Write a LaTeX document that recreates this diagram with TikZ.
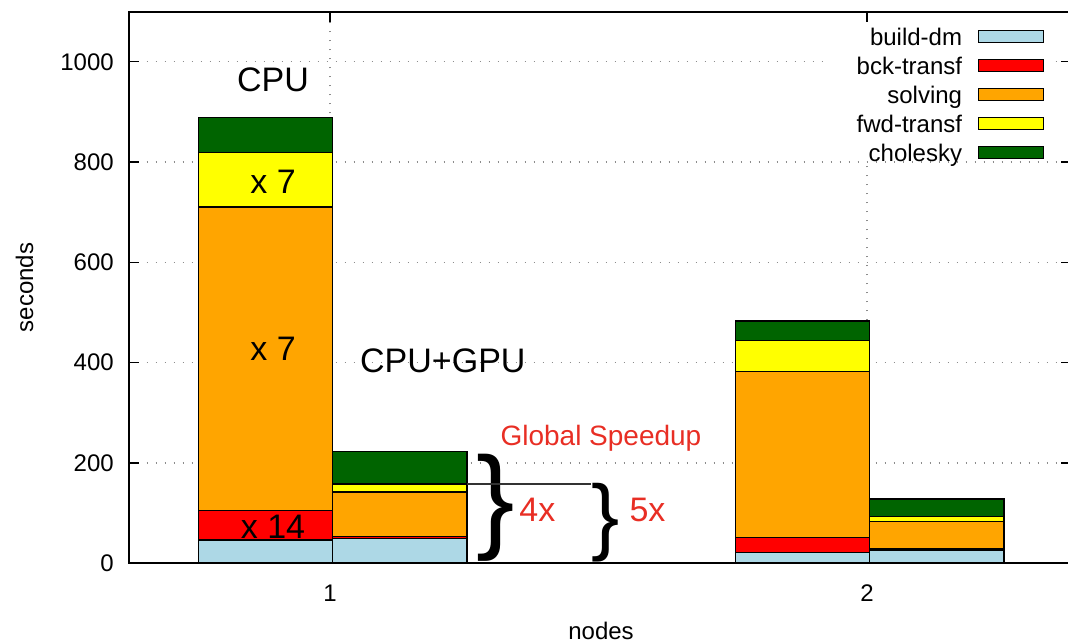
\documentclass[tikz,border=0pt]{standalone}
\usepackage{fontspec}
\setmainfont{Liberation Sans}
\usepackage{xcolor}
\usepackage{tikz}
\usetikzlibrary{positioning}
\definecolor{cbuild}{HTML}{ADD8E6}
\definecolor{cback}{HTML}{FF0000}
\definecolor{csolve}{HTML}{FFA500}
\definecolor{cforw}{HTML}{FFFF00}
\definecolor{cchol}{HTML}{006400}
\definecolor{speedred}{RGB}{232,46,36}

\begin{document}
\begin{tikzpicture}[
    x=537pt, y=0.5015pt,
    bar/.style={draw=black, line width=1.4pt},
    gridline/.style={black!45, line width=1.3pt, dash pattern=on 1.3pt off 7.7pt},
    axtick/.style={line width=1.4pt},
    ticklabel/.style={font=\fontsize{24pt}{28pt}\selectfont, inner sep=0pt},
    legtext/.style={font=\fontsize{24pt}{28pt}\selectfont, inner sep=0pt, text height=18pt, text depth=0pt},
    legbox/.style={draw=black, line width=1.4pt, minimum width=65pt, minimum height=12pt, inner sep=0pt},
    bigtext/.style={font=\fontsize{34pt}{40pt}\selectfont, inner sep=0pt},
    redtext/.style={text=speedred, inner sep=0pt},
    bracenode/.style={inner sep=0pt, anchor=north west},
]
\useasboundingbox (0.38547,-160.92) rectangle (2.3743,1123.23);
\clip (0.38547,-160.92) rectangle (2.3743,1123.23);

\foreach \v in {200,400,...,1000}
    \draw[gridline] (0.625,\v) -- (2.38,\v);
\foreach \n in {1,2}
    \draw[gridline] (\n,0) -- (\n,1100);

\foreach \v in {0,200,...,1000} {
    \draw[axtick] (0.625,\v) -- ++(0.0186,0);
    \draw[axtick] (2.38,\v) -- ++(-0.0186,0);
    \node[ticklabel, left=14.7pt] (yl\v) at (0.625,\v) {\v};
}
\foreach \n in {1,2} {
    \draw[axtick] (\n,1100) -- ++(0,-20);
    \draw[axtick] (\n,0) -- ++(0,20);
    \node[ticklabel] (xl\n) at (\n,-59.5) {\n};
}

\foreach \xl/\xr/\a/\b/\c/\d/\e in {0.755/1.005/46.5/105/710.5/818.7/888.6, 1.005/1.255/49/53.8/142/158/222.5, 1.755/2.005/22/52/382/444/483, 2.005/2.255/25/28.5/83/93/128} {
    \draw[bar, fill=cbuild] (\xl,0) rectangle (\xr,\a);
    \draw[bar, fill=cback] (\xl,\a) rectangle (\xr,\b);
    \draw[bar, fill=csolve] (\xl,\b) rectangle (\xr,\c);
    \draw[bar, fill=cforw] (\xl,\c) rectangle (\xr,\d);
    \draw[bar, fill=cchol] (\xl,\d) rectangle (\xr,\e);
}
\coordinate (g1fwd) at (1.255,158);

\draw[line width=2pt] (0.625,0) rectangle (2.38,1100);

\fill[white] (1.927,804) rectangle (2.345,1079);
\node[legbox, fill=cbuild] (kbuild) at (2.2679,1050.1) {};
\node[legbox, fill=cback, below=15.5pt of kbuild] (kback) {};
\node[legbox, fill=csolve, below=15.5pt of kback] (ksolve) {};
\node[legbox, fill=cforw, below=15.5pt of ksolve] (kforw) {};
\node[legbox, fill=cchol, below=15.5pt of kforw] (kchol) {};
\node[legtext, left=15.4pt of kbuild] (tbuild) {build-dm};
\node[legtext, left=15.4pt of kback] (tback) {bck-transf};
\node[legtext, left=15.4pt of ksolve] (tsolve) {solving};
\node[legtext, left=15.4pt of kforw] (tforw) {fwd-transf};
\node[legtext, left=15.4pt of kchol] (tchol) {cholesky};

\node[ticklabel, rotate=90] (ylabel) at (0.4313,549.7) {seconds};
\node[ticklabel] (xlabel) at (1.5047,-135) {nodes};

\node[bigtext, anchor=base] (cpu) at (0.8939,941.4) {CPU};
\node[bigtext, anchor=base] (fwdx) at (0.8939,736.6) {x 7};
\node[bigtext, anchor=base] (solvex) at (0.8939,405) {x 7};
\node[bigtext, anchor=base] (bckx) at (0.8939,50.4) {x 14};
\node[bigtext, anchor=base west] (cpugpu) at (1.0558,379.5) {CPU+GPU};

\node[redtext, font=\fontsize{28pt}{34pt}\selectfont, anchor=base west] (speedup) at (1.3172,234.9) {Global Speedup};
\node[bracenode, font=\fontsize{115pt}{115pt}\selectfont] (brfour) at (1.2728,217.9) {\}};
\node[bracenode, font=\fontsize{84.5pt}{85pt}\selectfont] (brfive) at (1.4862,160.7) {\}};
\draw[black!80, line width=1.5pt] (g1fwd) -- (g1fwd -| brfive.north west);
\node[bigtext, redtext, anchor=base west] (four) at (1.3522,83.5) {4x};
\node[bigtext, redtext, anchor=base west] (five) at (1.5575,83.5) {5x};
\end{tikzpicture}
\end{document}
